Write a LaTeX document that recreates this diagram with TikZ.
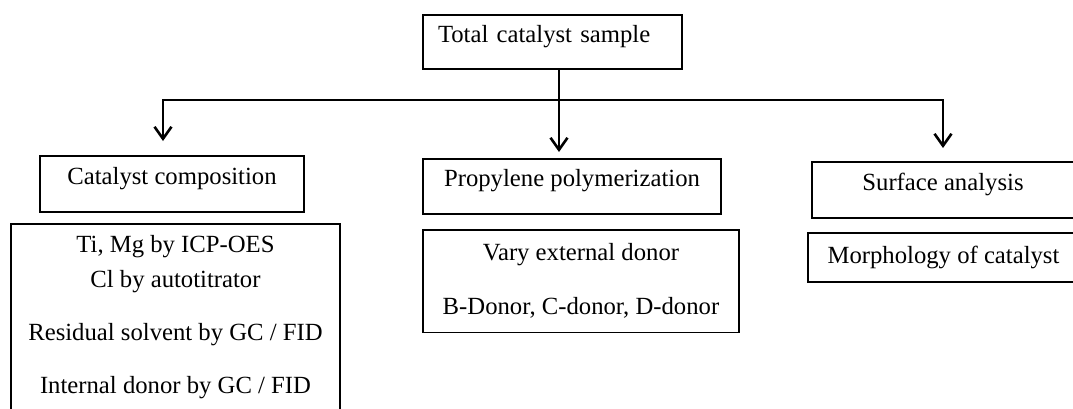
\documentclass[tikz,border=0pt]{standalone}
\usepackage{fontspec}
\setmainfont{Liberation Serif}
\usetikzlibrary{arrows.meta}

\begin{document}
\begin{tikzpicture}[x=1pt,y=-1pt,
  box/.style={draw, line width=1.5pt, inner sep=0pt, font=\fontsize{24.7pt}{30pt}\selectfont},
  single/.style={box, text height=10pt, text depth=10pt},
  detail/.style={box, anchor=north, align=center},
  link/.style={line width=2.6pt},
  arr/.style={link, -{Straight Barb[length=12pt,width=17pt]}}]
\clip (0,0) rectangle (1073,408);
\fill[white] (0,0) rectangle (1073,408);
\node[single, minimum height=54pt, text width=229pt, align=left, inner xsep=15pt] (total) at (552.5,42) {Total catalyst sample};
\node[single, minimum width=264pt, minimum height=56pt] (comp) at (172,184) {Catalyst composition};
\node[single, minimum width=298pt, minimum height=55pt] (prop) at (572,186.5) {Propylene polymerization};
\node[single, minimum width=262pt, minimum height=56pt] (surf) at (943,190) {Surface analysis};
\node[detail, minimum width=329pt, inner ysep=12pt] (compdet) at (175.5,223) {Ti, Mg by ICP-OES\\[5pt] Cl by autotitrator\\[23pt] Residual solvent by GC / FID\\[23pt] Internal donor by GC / FID};
\node[detail, minimum width=316pt, inner ysep=14pt] (propdet) at (581,229) {Vary external donor\\[24pt] B-Donor, C-donor, D-donor};
\node[box, minimum width=271pt, minimum height=49pt] (morph) at (943.5,257.5) {Morphology of catalyst};
% connectors
\coordinate (hub) at (559,100);
\coordinate (tipA) at (163,141);
\coordinate (tipB) at (559,152);
\coordinate (tipC) at (943,148);
\draw[arr] (hub |- total.south) -- (tipB);
\draw[arr] (hub) -- (tipA |- hub) -- (tipA);
\draw[arr] (hub) -- (tipC |- hub) -- (tipC);
\end{tikzpicture}
\end{document}
